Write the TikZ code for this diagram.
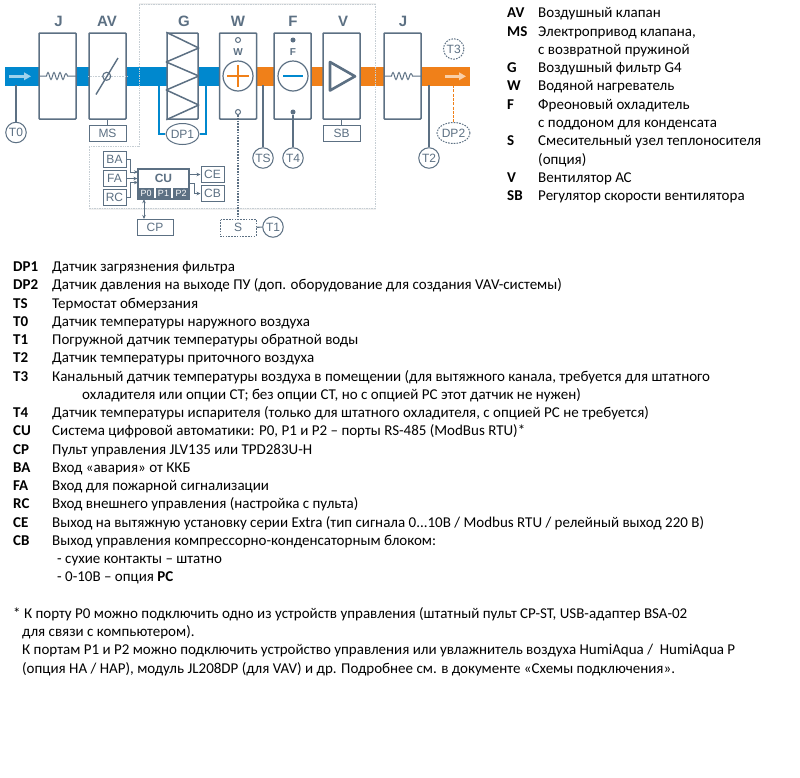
\documentclass[tikz,border=0pt]{standalone}
\usepackage{fontspec}
\setmainfont{Carlito}
\setsansfont{Liberation Sans}
\usetikzlibrary{arrows.meta,shapes.geometric}
\definecolor{ductblue}{HTML}{0088CE}
\definecolor{ductorange}{HTML}{F08019}
\definecolor{steel}{HTML}{5C7083}
\definecolor{framegray}{HTML}{C6CED4}
\tikzset{
  unit/.style={draw=steel, line width=1.5pt, fill=white, rounded corners=0.8pt, inner sep=0pt, minimum width=37pt, minimum height=86pt},
  subbox/.style={draw=steel, line width=1pt, fill=white, inner sep=0pt, text=steel, font=\sffamily\fontsize{12}{12}\selectfont},
  sensor/.style={draw=steel, line width=1pt, fill=white, circle, inner sep=0pt, minimum size=20.5pt, text=steel, font=\sffamily\fontsize{12}{12}\selectfont},
  oval/.style={draw=steel, line width=1pt, fill=white, ellipse, inner sep=0pt, minimum width=31pt, minimum height=21pt, text=steel, font=\sffamily\fontsize{12}{12}\selectfont},
  optional/.style={dash pattern=on 1.6pt off 1.2pt},
  title/.style={text=steel, font=\sffamily\bfseries\fontsize{15}{15}\selectfont},
  port/.style={fill=steel, inner sep=0pt, minimum height=11pt, text=white, font=\sffamily\fontsize{9}{9}\selectfont},
  wire/.style={draw=steel, line width=1.1pt},
  sig/.style={draw=steel, line width=0.8pt, -{Stealth[length=4pt,width=3.5pt]}},
  lbl/.style={anchor=base west, inner sep=0pt, font=\bfseries\fontsize{15}{15}\selectfont},
  txt/.style={anchor=base west, inner sep=0pt, font=\fontsize{15}{15}\selectfont},
  heatcoil/.pic={
    \draw[steel, line width=1pt] (-18.5,0) -- (-11,0) sin (-9.5,-3.5) cos (-8,0) sin (-6.5,3.5) cos (-5,0) sin (-3.5,-3.5) cos (-2,0) sin (-0.5,3.5) cos (1,0) sin (2.5,-3.5) cos (4,0) sin (5.5,3.5) cos (7,0) sin (8.5,-2.5) cos (10,0) -- (18.5,0);
  }
}
\begin{document}
\begin{tikzpicture}[x=1pt,y=-1pt]
    \useasboundingbox (0,0) rectangle (800,777);

    % Air duct
    \fill[ductblue] (5,67) rectangle (238,85.5);
    \fill[ductorange] (238,67) rectangle (470,85.5);
    \draw[line width=2.6pt, white!62!ductblue, -{Triangle[length=7pt,width=7.5pt]}] (9,76.3) -- (31,76.3);
    \draw[line width=2.6pt, white!62!ductorange, -{Triangle[length=7pt,width=7.5pt]}] (445,76.3) -- (466,76.3);

    % Frame around the main section
    \draw[line width=1.6pt, black!6] (139,4) -- (375.5,4);
    \draw[line width=1.6pt, black!6] (89,208.7) -- (375.5,208.7);
    \draw[framegray, line width=0.7pt, densely dotted] (139,4) -- (375.5,4) -- (375.5,208.7) -- (89,208.7) -- (89,146) -- (139,146) -- cycle;

    % Filter pressure loop
    \node[oval] (DPa) at (182.5,134) {DP1};
    \coordinate (DPaL) at (159,85);
    \coordinate (DPaR) at (206,85);
    \draw[ductblue, line width=1.3pt] (DPaL) |- (DPa.west);
    \draw[ductblue, line width=1.3pt] (DPaR) |- (DPa.east);

    % Units
    \node[unit] (J) at (57.5,76) {};
    \node[unit] (AV) at (107.5,76) {};
    \node[unit, minimum width=31pt] (G) at (182.5,76) {};
    \node[unit] (W) at (238,76) {};
    \node[unit] (F) at (292.5,76) {};
    \node[unit] (V) at (341.5,76) {};
    \node[unit] (Jb) at (402.5,76) {};

    \node[title] (tJ) at (58.5,21) {J};
    \node[title] (tAV) at (107,21) {AV};
    \node[title] (tG) at (184,21) {G};
    \node[title] (tW) at (238,21) {W};
    \node[title] (tF) at (293,21) {F};
    \node[title] (tV) at (343,21) {V};
    \node[title] (tJb) at (403,21) {J};

    \pic at (J) {heatcoil};
    \pic at (Jb) {heatcoil};

    % Damper
    \draw[framegray, line width=0.6pt, densely dotted] (AV.west) -- (AV.east);
    \draw[steel, line width=1.4pt] (96,94.5) -- (118,58);
    \node[draw=steel, line width=1.1pt, circle, inner sep=0pt, minimum size=8pt] (AVc) at (106.7,76.3) {};

    % Filter
    \draw[steel, line width=1.5pt, line join=round] (G.north west) -- (G.east |- 0,48) -- (G.west |- 0,62) -- (G.east) -- (G.west |- 0,90) -- (G.east |- 0,105) -- (G.south west);

    % Heater
    \node[draw=steel, line width=1pt, circle, inner sep=0pt, minimum size=5pt] (Wt) at (238,40) {};
    \node[text=steel, font=\sffamily\bfseries\fontsize{10}{10}\selectfont] (Wl) at (238,52) {W};
    \node[draw=steel, line width=1.2pt, circle, inner sep=0pt, minimum size=30pt] (Wc) at (238,76) {};
    \draw[ductorange, line width=1.3pt] (Wc.center) +(-11,0) -- +(11,0) +(0,-11) -- +(0,11);
    \node[draw=steel, line width=1pt, circle, inner sep=0pt, minimum size=5pt] (Wb) at (238,112) {};

    % Cooler
    \node[fill=steel, circle, inner sep=0pt, minimum size=5pt] (Ft) at (293,40) {};
    \node[text=steel, font=\sffamily\bfseries\fontsize{10}{10}\selectfont] (Fl) at (293,52) {F};
    \node[draw=steel, line width=1.2pt, circle, inner sep=0pt, minimum size=30pt] (Fc) at (293,76) {};
    \draw[ductblue, line width=2pt] (Fc.center) +(-10,0) -- +(10,0);
    \node[fill=steel, circle, inner sep=0pt, minimum size=5pt] (Fb) at (293,112) {};

    % Fan
    \draw[steel, line width=2.6pt, line join=round] (330,62) -- (355,76.3) -- (330,90.5) -- cycle;

    % Auxiliary boxes
    \node[subbox, minimum width=37pt, minimum height=16pt] (MS) at (107.5,133) {MS};
    \node[subbox, minimum width=37pt, minimum height=16pt] (SB) at (341.5,133) {SB};
    \draw[wire] (AV.south) -- (MS.north);
    \draw[wire] (V.south) -- (SB.north);

    % Sensors
    \node[sensor] (T0) at (16,132.5) {T0};
    \node[sensor] (TS) at (263,158) {TS};
    \node[sensor] (T4) at (293,158) {T4};
    \node[sensor] (T2) at (429,158) {T2};
    \node[sensor, optional] (T3) at (453.7,49) {T3};
    \node[oval, optional] (DPb) at (453.5,133) {DP2};
    \coordinate (T0up) at (16,85);
    \coordinate (TSup) at (263,85);
    \coordinate (T2up) at (429,85);
    \coordinate (DPbup) at (453.5,85);
    \draw[wire] (T0up) -- (T0);
    \draw[wire] (TSup) -- (TS);
    \draw[wire] (T2up) -- (T2);
    \draw[wire] (Fb) -- (T4);
    \draw[ductorange, line width=1.8pt, dash pattern=on 3pt off 1.3pt] (DPbup) -- (DPb);

    % Mixing unit
    \node[subbox, optional, minimum width=36pt, minimum height=17pt] (S) at (238,227.5) {S};
    \node[sensor] (T1) at (273,227) {T1};
    \draw[wire] (S) -- (T1);
    \draw[wire, optional] (Wb) -- (S);

    % Controller
    \node[subbox, line width=1.1pt, minimum width=51pt, minimum height=30pt] (CU) at (163.5,184) {};
    \node[text=steel, font=\sffamily\bfseries\fontsize{12}{12}\selectfont] (CUl) at (163.5,178) {CU};
    \node[port, minimum width=16.5pt] (P0) at (146.2,193.5) {P0};
    \node[port, minimum width=15pt] (P1) at (163.5,193.5) {P1};
    \node[port, minimum width=15.5pt] (P2) at (181.2,193.5) {P2};
    \node[subbox, minimum width=23pt, minimum height=16pt] (BA) at (114.5,159) {BA};
    \node[subbox, minimum width=23pt, minimum height=15.5pt] (FA) at (114.5,178.5) {FA};
    \node[subbox, minimum width=23pt, minimum height=16pt] (RC) at (114.5,197) {RC};
    \node[subbox, minimum width=23pt, minimum height=15.5pt] (CE) at (212.5,174.5) {CE};
    \node[subbox, minimum width=23pt, minimum height=15.5pt] (CB) at (212.5,193.5) {CB};
    \node[subbox, minimum width=36pt, minimum height=16pt] (CP) at (155,227) {CP};
    \coordinate (BAin) at (138,172);
    \coordinate (RCin) at (138,182.5);
    \coordinate (CBout) at (189,183);
    \coordinate (CPup) at (144,219);
    \draw[sig] (BA.east) -- (130.5,159) |- (BAin);
    \draw[sig] (FA.east) -- (CU.west |- FA.east);
    \draw[sig] (RC.east) -- (130.5,197) |- (RCin);
    \draw[sig] (CU.east |- CE.west) -- (CE.west);
    \draw[sig] (CBout) -- (194.5,183) |- (CB.west);
    \draw[sig, {Stealth[length=4pt,width=3.5pt]}-{Stealth[length=4pt,width=3.5pt]}] (P0.south -| CPup) -- (CPup);

    % Right legend
    \node[lbl] (lAV) at (507,17.5) {AV};
    \node[txt] (dAV) at (538,17.5) {Воздушный клапан};
    \node[lbl] (lMS) at (507,36) {MS};
    \node[txt] (dMS) at (538,36) {Электропривод клапана,};
    \node[txt] (dMSb) at (538,54) {с возвратной пружиной};
    \node[lbl] (lG) at (507,72) {G};
    \node[txt] (dG) at (538,72) {Воздушный фильтр G4};
    \node[lbl] (lW) at (507,90.5) {W};
    \node[txt] (dW) at (538,90.5) {Водяной нагреватель};
    \node[lbl] (lF) at (507,109) {F};
    \node[txt] (dF) at (538,109) {Фреоновый охладитель};
    \node[txt] (dFb) at (538,127) {с поддоном для конденсата};
    \node[lbl] (lS) at (507,145.5) {S};
    \node[txt] (dS) at (538,145.5) {Смесительный узел теплоносителя};
    \node[txt] (dSb) at (538,164) {(опция)};
    \node[lbl] (lV) at (507,182) {V};
    \node[txt] (dV) at (538,182) {Вентилятор АС};
    \node[lbl] (lSB) at (507,200.5) {SB};
    \node[txt] (dSB) at (538,200.5) {Регулятор скорости вентилятора};

    % Lower legend
    \node[lbl] (kDPa) at (13,271.5) {DP1};
    \node[txt] (eDPa) at (52,271.5) {Датчик загрязнения фильтра};
    \node[lbl] (kDPb) at (13,289.5) {DP2};
    \node[txt] (eDPb) at (52,289.5) {Датчик давления на выходе ПУ (доп. оборудование для создания VAV-системы)};
    \node[lbl] (kTS) at (13,308) {TS};
    \node[txt] (eTS) at (52,308) {Термостат обмерзания};
    \node[lbl] (kTa) at (13,326) {T0};
    \node[txt] (eTa) at (52,326) {Датчик температуры наружного воздуха};
    \node[lbl] (kTb) at (13,344.5) {T1};
    \node[txt] (eTb) at (52,344.5) {Погружной датчик температуры обратной воды};
    \node[lbl] (kTc) at (13,362.5) {T2};
    \node[txt] (eTc) at (52,362.5) {Датчик температуры приточного воздуха};
    \node[lbl] (kTd) at (13,381) {T3};
    \node[txt] (eTd) at (52,381) {Канальный датчик температуры воздуха в помещении (для вытяжного канала, требуется для штатного};
    \node[txt] (eTdb) at (82,399) {охладителя или опции СТ; без опции СТ, но с опцией РС этот датчик не нужен)};
    \node[lbl] (kTe) at (13,417.5) {T4};
    \node[txt] (eTe) at (52,417.5) {Датчик температуры испарителя (только для штатного охладителя, с опцией РС не требуется)};
    \node[lbl] (kCU) at (13,435.5) {CU};
    \node[txt] (eCU) at (52,435.5) {Система цифровой автоматики: P0, P1 и P2 – порты RS-485 (ModBus RTU)*};
    \node[lbl] (kCP) at (13,454) {CP};
    \node[txt] (eCP) at (52,454) {Пульт управления JLV135 или TPD283U-H};
    \node[lbl] (kBA) at (13,472) {BA};
    \node[txt] (eBA) at (52,472) {Вход «авария» от ККБ};
    \node[lbl] (kFA) at (13,490.5) {FA};
    \node[txt] (eFA) at (52,490.5) {Вход для пожарной сигнализации};
    \node[lbl] (kRC) at (13,508.5) {RC};
    \node[txt] (eRC) at (52,508.5) {Вход внешнего управления (настройка с пульта)};
    \node[lbl] (kCE) at (13,527) {CE};
    \node[txt] (eCE) at (52,527) {Выход на вытяжную установку серии Extra (тип сигнала 0...10В / Modbus RTU / релейный выход 220 В)};
    \node[lbl] (kCB) at (13,545) {CB};
    \node[txt] (eCB) at (52,545) {Выход управления компрессорно-конденсаторным блоком:};
    \node[txt] (eCBa) at (57,563.5) {- сухие контакты – штатно};
    \node[txt] (eCBb) at (57,581.5) {- 0-10В – опция \textbf{РС}};

    % Footnote
    \node[txt] (na) at (13,618) {* К порту P0 можно подключить одно из устройств управления (штатный пульт CP-ST, USB-адаптер BSA-02};
    \node[txt] (nb) at (22,636) {для связи с компьютером).};
    \node[txt] (nc) at (22,654.5) {К портам P1 и P2 можно подключить устройство управления или увлажнитель воздуха HumiAqua /\ \ HumiAqua P};
    \node[txt] (nd) at (22,673) {(опция HA / HAP), модуль JL208DP (для VAV) и др. Подробнее см. в документе «Схемы подключения».};
\end{tikzpicture}
\end{document}
